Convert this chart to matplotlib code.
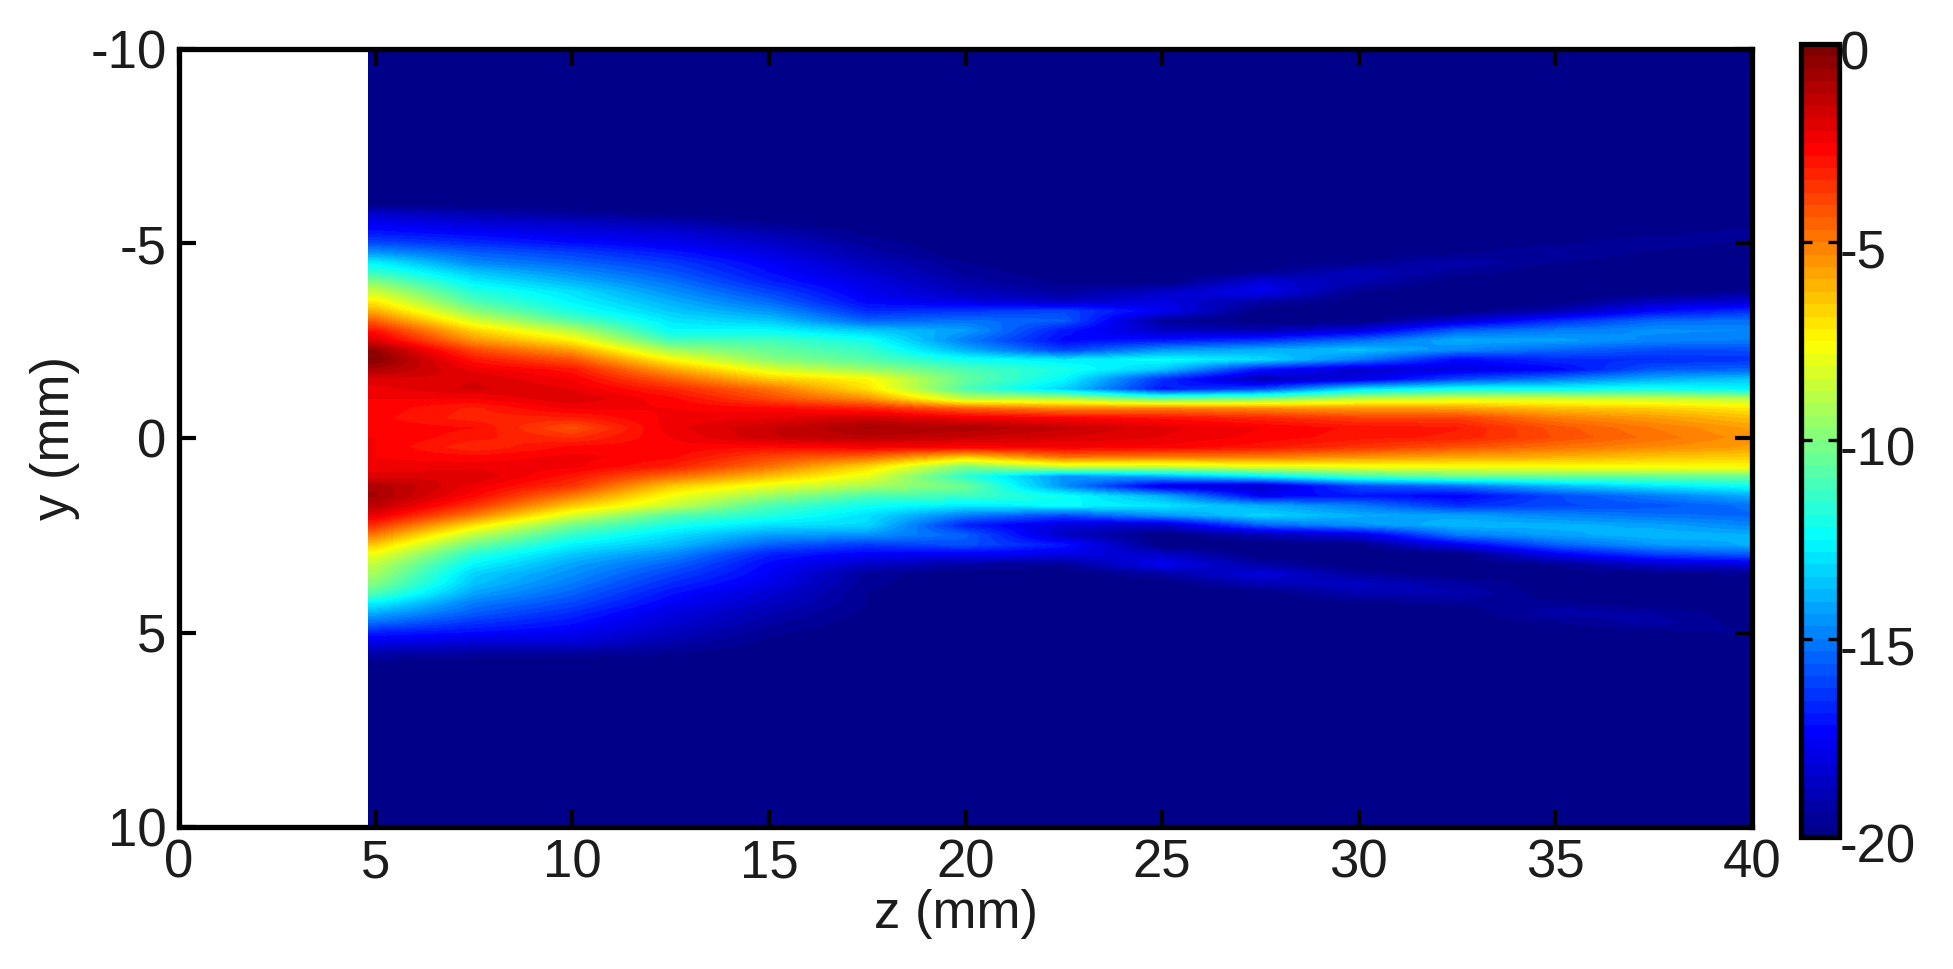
import numpy as np
import matplotlib
matplotlib.use("Agg")
import matplotlib.pyplot as plt
from matplotlib.colors import LinearSegmentedColormap, Normalize
from matplotlib.cm import ScalarMappable
from matplotlib.patches import Rectangle
from matplotlib.transforms import ScaledTranslation

# Field in dB. Each list is a column at one z (mm),
# from y = -6 mm to y = +6 mm in 0.25 mm rows.
z_columns = [5, 7.5, 10, 12.5, 15, 17.5, 20, 22.5, 25, 27.5, 30, 32.5, 35, 37.5, 40]
y_first, y_last, y_step = -6.0, 6.0, 0.25
background = -20

z05 = [-20,-18.5,-17.6,-17,-16,-14.5,-12.7,-11.5,-10,-8.6,
       -7.3,-6,-4.5,-3,-2,-0.6,-0.3,-1,-2,-2.3,
       -2.5,-2.6,-2.7,-2.6,-2.5,-2.5,-2.5,-2.4,-2,-1,
       -0.9,-1.3,-2.2,-3.5,-5,-6.5,-7.8,-8.8,-9.3,-10,
       -11,-12.6,-14,-15.3,-16.8,-17.8,-19,-19.7,-20]
z07 = [-20,-19,-18.2,-17.4,-16.6,-15.6,-14.8,-13.6,-12.7,-11.8,
       -11,-9.8,-8.3,-6.7,-5.5,-4,-3,-2.3,-1.9,-1.8,
       -2.5,-3.2,-3.3,-2.8,-3,-3.4,-2.7,-2.3,-1.9,-2.3,
       -2.7,-3.6,-5,-7,-8.8,-10.3,-11.7,-12.5,-13.3,-13.6,
       -14.2,-15,-15.6,-16.4,-17.2,-18.2,-19.2,-19.9,-20]
z10 = [-20,-19.5,-18.5,-17.9,-17.2,-16.2,-15.5,-14.7,-13.9,-13,
       -12.6,-12,-10.8,-8.9,-7.4,-5.7,-4.2,-3,-2.5,-2.2,
       -1.9,-2.4,-3.2,-4.2,-3.5,-2.7,-2.4,-2.4,-3,-3.6,
       -5,-6.5,-8.3,-10.2,-11.5,-12.6,-13.5,-14.2,-14.6,-15,
       -15.5,-16,-16.6,-17.1,-17.6,-18.2,-19.3,-20,-20]
z12 = [-20,-19.8,-19,-18.2,-17.7,-17,-16.3,-15.8,-15.2,-14.6,
       -14,-13.5,-12.9,-12.4,-11.2,-9.3,-7.5,-5.8,-4.4,-3.3,
       -2.7,-2.5,-2.4,-2.3,-2.5,-2.6,-2.7,-3.2,-4.7,-6.5,
       -7.7,-8.6,-10.8,-12,-13,-13.7,-14.7,-15.5,-16.1,-16.6,
       -17.1,-17.5,-18,-18.3,-18.7,-19.1,-19.6,-20,-20]
z15 = [-20,-20,-19.7,-19,-18.5,-18,-17.5,-17.2,-16.8,-16.1,
       -15.4,-14.5,-13.5,-12.4,-11.2,-10.5,-9.8,-8.2,-6.5,-4.8,
       -4,-2.7,-2.2,-1.6,-1.6,-2.8,-3.9,-4.8,-6.3,-8,
       -9.5,-11,-11.8,-13,-14.3,-15.5,-16.8,-17.3,-17.5,-17.8,
       -18.3,-18.6,-19,-19.3,-19.6,-19.8,-20,-20,-20]
z17 = [-20,-20,-20,-19.8,-19.5,-19.2,-18.8,-18.4,-18,-17.7,
       -17.4,-16.6,-15.5,-13.5,-12.1,-11.4,-10.8,-9.5,-7.5,-7,
       -5.4,-3.2,-1.7,-0.9,-1.3,-2.5,-4.6,-6.8,-8,-9.2,
       -11,-12.2,-13,-13.2,-14.5,-16.3,-17.5,-18.5,-19.5,-19.6,
       -19.7,-19.7,-19.8,-19.9,-20,-20,-20,-20,-20]
z20 = [-20,-20,-20,-20,-20,-20,-19.7,-19.5,-19.2,-18.8,
       -18,-16.4,-15.2,-14.3,-15,-14,-12.2,-11,-10.5,-11,
       -8.8,-4.5,-2.3,-1,-1.6,-2.6,-6.5,-10,-11.6,-10.3,
       -11.2,-12.8,-15,-16.8,-15.5,-15.8,-17.6,-19.3,-20,-20,
       -20,-20,-20,-20,-20,-20,-20,-20,-20]
z22 = [-20,-20,-20,-20,-20,-20,-20,-20,-19.8,-19.4,
       -18.7,-16,-15.6,-17,-17.3,-16.2,-12.8,-12,-12.5,-13.3,
       -9,-5.2,-2.6,-1.5,-1.9,-2.5,-4.7,-8.5,-14.5,-14.6,
       -12.2,-12.4,-16,-18.2,-18.6,-17,-17.8,-19.5,-20,-20,
       -20,-20,-20,-20,-20,-20,-20,-20,-20]
z25 = [-20,-20,-20,-20,-20,-20,-20,-20,-20,-18.6,
       -18,-17.6,-19.5,-18.6,-17,-14.5,-12.3,-13.5,-16.5,-17,
       -10.5,-5,-2.9,-2.1,-2.2,-2.6,-5,-8.6,-14,-18,
       -14,-12.9,-14.5,-18.5,-20,-20,-18.5,-17.6,-19.3,-20,
       -20,-20,-20,-20,-20,-20,-20,-20,-20]
z27 = [-20,-20,-20,-20,-20,-20,-20,-19.7,-18.2,-17.6,
       -19.2,-20,-20,-19,-16.5,-14,-13.1,-17,-19,-16,
       -10,-5.3,-3.3,-2.5,-2.6,-3,-5,-8,-12.8,-18.5,
       -17.5,-14,-13.2,-15.5,-19,-20,-20,-19.3,-18,-18.9,
       -20,-20,-20,-20,-20,-20,-20,-20,-20]
z30 = [-20,-20,-20,-20,-20,-20,-19.7,-18.8,-19,-19.7,
       -20,-20,-20,-18,-15.4,-13.6,-15,-18.4,-18,-13,
       -8.8,-5.6,-3.8,-2.9,-3,-3.6,-5.4,-7.8,-11.2,-16,
       -17,-15,-14,-14.5,-18,-19.8,-20,-20,-19.5,-18.6,
       -19,-19.8,-20,-20,-20,-20,-20,-20,-20]
z32 = [-20,-20,-20,-20,-20,-19.8,-19.1,-19.5,-20,-20,
       -20,-20,-18.3,-15.6,-14,-14.7,-17.3,-18,-16,-12.2,
       -8.3,-5.7,-3.8,-3.1,-3.2,-4.2,-5.8,-7.7,-10.4,-15.2,
       -17.5,-16.5,-14.2,-13.8,-15,-17.6,-20,-20,-20,-19.3,
       -19,-19.6,-20,-20,-20,-20,-20,-20,-20]
z35 = [-20,-20,-20,-20,-19.8,-19.3,-19.7,-20,-20,-20,
       -20,-19,-16.6,-15,-14.2,-15.4,-16.6,-17.4,-15,-12.3,
       -8.4,-6.3,-5,-4.2,-4.1,-4.8,-6,-7.6,-10.4,-13.8,
       -16,-16,-14.8,-13.9,-14.2,-15.5,-17.6,-19.6,-20,-20,
       -20,-19.6,-19.1,-19.7,-20,-20,-20,-20,-20]
z37 = [-20,-20,-20,-19.8,-19.4,-19.8,-20,-20,-20,-20,
       -18.8,-17.3,-15.4,-14.6,-14.8,-15.9,-16.6,-15.7,-14,-12.1,
       -8.6,-6.6,-5.6,-5,-4.8,-5.3,-6.4,-7.6,-10.4,-12.9,
       -15,-15.8,-15.2,-14.2,-13.8,-14.4,-16.2,-18.4,-19.8,-20,
       -20,-20,-19.4,-19.2,-19.8,-20,-20,-20,-20]
z40 = [-20,-20,-19.9,-19.5,-19.8,-20,-20,-20,-20,-19.6,
       -18.3,-16.5,-15.2,-14.7,-15,-15.9,-16.4,-15.5,-13.5,-12.6,
       -8.9,-7.2,-6.3,-5.7,-5.5,-5.7,-6.6,-7.5,-10.3,-12.3,
       -14,-15.2,-15.4,-14.8,-14,-14,-15.6,-18,-19.6,-20,
       -20,-20,-20,-19.9,-19.6,-19.9,-20,-20,-20]

x_ticks = [0, 5, 10, 15, 20, 25, 30, 35, 40]
y_ticks = [-10, -5, 0, 5, 10]
c_ticks = [0, -5, -10, -15, -20]
x_label = "z (mm)"
y_label = "y (mm)"
data_start_z = 4.8

W, H = 1953, 969
plt.rcParams["font.family"] = ["Liberation Sans", "DejaVu Sans"]
plt.rcParams["axes.unicode_minus"] = False
INK = "#1c1c1c"
FS = 38

# MATLAB-style jet with 64 levels
jet = LinearSegmentedColormap.from_list(
    "matlab_jet",
    [(0, (0, 0, 0.54)), (0.125, (0, 0, 1)), (0.375, (0, 1, 1)),
     (0.625, (1, 1, 0)), (0.875, (1, 0, 0)), (1, (0.5, 0, 0))], N=64)
norm = Normalize(-20, 0)

table = np.array([z05, z07, z10, z12, z15, z17, z20, z22, z25, z27,
                  z30, z32, z35, z37, z40], dtype=float).T
pad = int(round((10 + y_first) / y_step))
field = np.pad(table, ((pad, pad), (0, 0)), constant_values=background)
dz = z_columns[1] - z_columns[0]


def rect(x0, y0, x1, y1):
    return [x0 / W, 1 - y1 / H, (x1 - x0) / W, (y1 - y0) / H]


fig = plt.figure(figsize=(W / 100, H / 100), dpi=100, facecolor="white")
ax = fig.add_axes(rect(179, 49, 1752, 827))
ax.set_facecolor("white")
im = ax.imshow(field, cmap=jet, norm=norm, origin="upper", aspect="auto",
               interpolation="bilinear", interpolation_stage="data",
               extent=[z_columns[0] - dz / 2, z_columns[-1] + dz / 2,
                       10 + y_step / 2, -10 - y_step / 2])
ax.set_xlim(0, 40)
ax.set_ylim(10, -10)
clip = Rectangle((data_start_z, -10), 40 - data_start_z, 20, transform=ax.transData)
im.set_clip_path(clip)

ax.set_xticks(x_ticks)
ax.set_yticks(y_ticks)
ax.tick_params(axis="both", direction="in", length=12, width=3, top=True, right=True,
               labelsize=FS, labelcolor=INK)
ax.tick_params(axis="x", pad=8)
ax.tick_params(axis="y", pad=9)
for s in ax.spines.values():
    s.set_linewidth(3.8)
ax.set_xlabel(x_label, fontsize=FS, color=INK)
ax.xaxis.set_label_coords((956 - 179) / 1573, -(914 - 827) / 778, transform=ax.transAxes)
ax.xaxis.label.set_va("center")
ax.set_ylabel(y_label, fontsize=FS, color=INK)
ax.yaxis.set_label_coords((55 - 179) / 1573, 0.5, transform=ax.transAxes)
ax.yaxis.label.set_va("center")

cax = fig.add_axes(rect(1800.5, 44, 1838.5, 837))
cb = fig.colorbar(ScalarMappable(norm=norm, cmap=jet), cax=cax)
cb.set_ticks(c_ticks)
cb.outline.set_linewidth(3.8)
cax.tick_params(axis="y", direction="in", length=8, width=2.4, left=True, right=True,
                labelsize=FS, labelcolor=INK, pad=1)
shift = ScaledTranslation(0, -6 / 100, fig.dpi_scale_trans)
for lab in cax.get_yticklabels():
    lab.set_transform(lab.get_transform() + shift)

fig.savefig("out.png", dpi=100)
